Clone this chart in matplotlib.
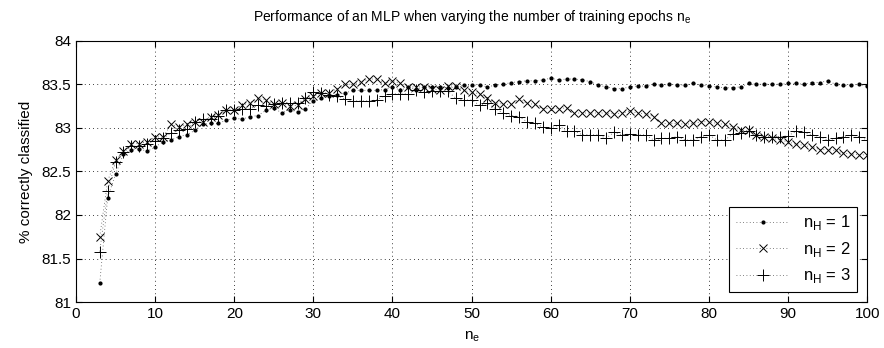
import numpy as np
import matplotlib.pyplot as plt

plt.rcParams['font.family'] = ['Liberation Sans', 'DejaVu Sans']

epochs = np.arange(3, 101)

acc_h1 = [81.22, 82.20, 82.47, 82.70, 82.75, 82.76, 82.73, 82.78, 82.84,
          82.86, 82.90, 82.92, 82.97, 83.04, 83.05, 83.05, 83.09, 83.11,
          83.10, 83.13, 83.14, 83.20, 83.23, 83.17, 83.21, 83.18, 83.22,
          83.31, 83.34, 83.37, 83.38, 83.40, 83.43, 83.43, 83.43, 83.43,
          83.44, 83.47, 83.43, 83.47, 83.44, 83.47, 83.47, 83.47, 83.46,
          83.47, 83.49, 83.49, 83.49, 83.47, 83.49, 83.50, 83.52, 83.53,
          83.54, 83.54, 83.55, 83.57, 83.55, 83.56, 83.56, 83.55, 83.53,
          83.49, 83.47, 83.45, 83.45, 83.47, 83.48, 83.48, 83.50, 83.49,
          83.50, 83.49, 83.49, 83.51, 83.49, 83.48, 83.47, 83.46, 83.46,
          83.47, 83.51, 83.50, 83.50, 83.50, 83.50, 83.51, 83.51, 83.50,
          83.52, 83.52, 83.54, 83.50, 83.49, 83.49, 83.50, 83.48]

acc_h2 = [81.75, 82.39, 82.63, 82.73, 82.82, 82.82, 82.84, 82.90, 82.89,
          83.04, 83.01, 83.04, 83.07, 83.07, 83.13, 83.15, 83.20, 83.21,
          83.26, 83.29, 83.34, 83.32, 83.27, 83.29, 83.25, 83.26, 83.33,
          83.36, 83.40, 83.40, 83.45, 83.50, 83.50, 83.53, 83.56, 83.56,
          83.51, 83.54, 83.51, 83.47, 83.47, 83.47, 83.45, 83.43, 83.48,
          83.48, 83.43, 83.41, 83.39, 83.34, 83.29, 83.27, 83.27, 83.33,
          83.28, 83.27, 83.22, 83.22, 83.22, 83.23, 83.17, 83.17, 83.17,
          83.17, 83.17, 83.16, 83.17, 83.19, 83.17, 83.16, 83.13, 83.05,
          83.05, 83.05, 83.04, 83.05, 83.07, 83.07, 83.05, 83.04, 83.01,
          82.97, 82.97, 82.92, 82.90, 82.88, 82.86, 82.84, 82.81, 82.80,
          82.78, 82.75, 82.75, 82.74, 82.71, 82.70, 82.69, 82.69]

acc_h3 = [81.58, 82.28, 82.61, 82.72, 82.79, 82.79, 82.82, 82.85, 82.88,
          82.94, 82.97, 82.99, 83.07, 83.10, 83.10, 83.14, 83.20, 83.21,
          83.22, 83.22, 83.26, 83.25, 83.27, 83.28, 83.28, 83.28, 83.34,
          83.41, 83.40, 83.38, 83.37, 83.33, 83.31, 83.31, 83.31, 83.32,
          83.37, 83.39, 83.39, 83.39, 83.44, 83.41, 83.42, 83.42, 83.42,
          83.34, 83.32, 83.32, 83.26, 83.28, 83.22, 83.17, 83.14, 83.13,
          83.07, 83.05, 83.01, 83.00, 83.03, 82.96, 82.96, 82.92, 82.92,
          82.92, 82.88, 82.95, 82.92, 82.93, 82.92, 82.92, 82.86, 82.88,
          82.88, 82.90, 82.86, 82.86, 82.90, 82.92, 82.86, 82.86, 82.93,
          82.94, 82.96, 82.92, 82.90, 82.90, 82.90, 82.91, 82.96, 82.95,
          82.92, 82.90, 82.86, 82.88, 82.90, 82.92, 82.90, 82.86]

xticks = [0, 10, 20, 30, 40, 50, 60, 70, 80, 90, 100]
yticks = [81, 81.5, 82, 82.5, 83, 83.5, 84]
ytick_labels = ['81', '81.5', '82', '82.5', '83', '83.5', '84']

fig = plt.figure(figsize=(8.84, 3.48), dpi=100)
ax = fig.add_axes([0.086, 0.132, 0.895, 0.751])

style = dict(linestyle=(0, (1, 3)), color='0.35', lw=0.6, mec='k', mfc='k')
ax.plot(epochs, acc_h1, marker='.', ms=4, label=r'n$_\mathregular{H}$ = 1', **style)
ax.plot(epochs, acc_h2, marker='x', ms=6, mew=0.7, label=r'n$_\mathregular{H}$ = 2', **style)
ax.plot(epochs, acc_h3, marker='+', ms=8, mew=0.7, label=r'n$_\mathregular{H}$ = 3', **style)

ax.set_xlim(0, 100)
ax.set_ylim(81, 84)
ax.set_xticks(xticks)
ax.set_yticks(yticks)
ax.set_yticklabels(ytick_labels)
ax.tick_params(direction='in', top=True, right=True, labelsize=11, length=4)
ax.grid(True, linestyle=(0, (1, 4)), color='k', lw=0.6)
for s in ax.spines.values():
    s.set_linewidth(0.8)

ax.set_title('Performance of an MLP when varying the number of training epochs n$_\\mathregular{e}$',
             fontsize=10, pad=14)
ax.set_xlabel('n$_\\mathregular{e}$', fontsize=11, labelpad=6)
ax.set_ylabel('% correctly classified', fontsize=11, labelpad=6)

leg = ax.legend(loc='lower right', fontsize=12, fancybox=False, framealpha=1,
                edgecolor='k', handlelength=3.2, handletextpad=0.8,
                borderaxespad=0.6, labelspacing=0.45)
leg.get_frame().set_linewidth(0.8)

fig.savefig('out.png', dpi=100)
